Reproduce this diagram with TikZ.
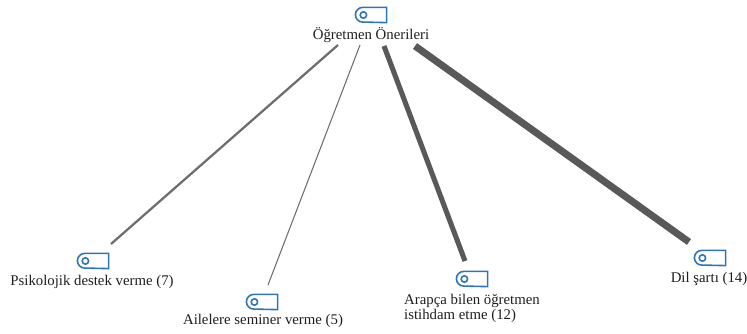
\documentclass[tikz,border=0pt]{standalone}
\usepackage{fontspec}
\setmainfont{Liberation Serif}
\definecolor{iconblue}{RGB}{46,117,182}
\definecolor{linkgray}{RGB}{89,89,89}
\definecolor{thingray}{RGB}{110,110,110}
\definecolor{labeltext}{RGB}{30,30,30}
\tikzset{
  lbl/.style={inner sep=0pt,text=labeltext,font=\fontsize{11.1pt}{11.3pt}\selectfont,align=left},
  iconbox/.style={minimum width=23pt,minimum height=11pt,inner sep=0pt},
  iconline/.style={draw=iconblue,line width=1.2pt},
  link/.style={draw=linkgray,line cap=butt},
  thinlink/.style={draw=thingray,line cap=butt}
}
\newcommand{\tagicon}[2]{%
  \node[iconbox] (#2) at (#1) {};
  \draw[iconline] (#2.north east) -- ([xshift=5.5pt]#2.north west)
    arc[start angle=90,end angle=270,radius=5.5pt] -- (#2.south east) -- cycle;
  \draw[iconline] ([xshift=6pt]#2.west) circle[radius=2.4pt];
}
\begin{document}
\begin{tikzpicture}[x=0.75pt,y=-0.75pt]
\useasboundingbox (0,0) rectangle (747,333);
\tagicon{371,15}{rooticon}
\tagicon{93,261}{psiicon}
\tagicon{262,302}{aileicon}
\tagicon{472,279}{arapicon}
\tagicon{710,258}{dilicon}
\node[lbl,anchor=center] (root) at (371,35) {Öğretmen Önerileri};
\node[lbl,anchor=center] (psi) at (92,282) {Psikolojik destek verme (7)};
\node[lbl,anchor=center] (aile) at (263,321) {Ailelere seminer verme (5)};
\node[lbl,anchor=center] (arap) at (472,308) {Arapça bilen öğretmen\\istihdam etme (12)};
\node[lbl,anchor=center] (dil) at (709,279) {Dil şartı (14)};
\coordinate (r1) at (338,45);
\coordinate (r2) at (360,45);
\coordinate (r3) at (384,46);
\coordinate (r4) at (415,46);
\coordinate (e1) at (111,244);
\coordinate (e2) at (268,285);
\coordinate (e3) at (465,261);
\coordinate (e4) at (689,242);
\draw[thinlink,line width=1.7pt] (r1) -- (e1);
\draw[thinlink,line width=0.8pt] (r2) -- (e2);
\draw[link,line width=3.8pt] (r3) -- (e3);
\draw[link,line width=5.3pt] (r4) -- (e4);
\end{tikzpicture}
\end{document}
